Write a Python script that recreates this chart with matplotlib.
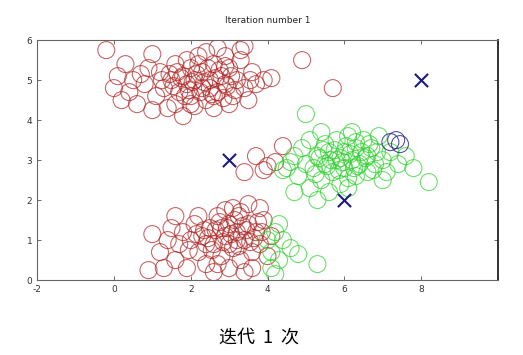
import numpy as np
import matplotlib.pyplot as plt

# cluster assignments after iteration 1
red_x = [-0.2, 0.3, 0.1, 0.5, 0.0, 0.4, 0.8, 0.9, 1.0, 1.2, 1.3, 1.1, 1.5, 1.6, 1.7, 1.8,
         1.9, 2.0, 2.0, 2.1, 2.2, 2.3, 2.3, 2.4, 2.5, 2.6, 2.7, 2.8, 2.9, 3.0, 3.1, 3.2,
         3.3, 3.3, 3.4, 3.6, 3.7, 1.8, 0.6, 1.4, 2.6, 3.0, 1.9, 2.4, 1.6, 2.9, 3.9, 4.1,
         3.5, 0.2, 1.0, 2.1, 2.7, 3.4,
         1.55, 1.75, 1.95, 2.15, 2.35, 2.55, 2.75, 2.95, 1.65, 1.85, 2.05, 2.25, 2.45,
         2.65, 2.85, 3.05, 1.45, 2.5, 2.2, 2.9, 1.25, 3.15, 0.7, 3.55, 2.0, 2.6,
         0.9, 1.0, 1.2, 1.4, 1.5, 1.6, 1.7, 1.8, 1.9, 2.0, 2.1, 2.2, 2.3, 2.4, 2.5, 2.6,
         2.7, 2.8, 2.9, 3.0, 3.0, 3.1, 3.2, 3.3, 3.3, 3.4, 3.5, 3.6, 3.6, 3.7, 3.8, 3.9,
         4.0, 4.1, 2.2, 1.3, 2.6, 3.1, 3.5, 2.9, 1.6, 3.8, 2.4, 2.8, 3.2, 3.4,
         2.45, 2.65, 2.85, 3.05, 3.25, 3.45, 3.65, 2.55, 2.75, 2.95, 3.15, 3.35, 3.55,
         3.75, 2.35, 3.85, 2.15, 1.95, 3.0, 3.25, 2.7,
         3.4, 3.7, 3.9, 4.2, 4.4, 4.0, 5.7, 4.9]
red_y = [5.75, 5.4, 5.1, 5.0, 4.8, 4.7, 4.9, 5.3, 5.65, 5.2, 4.8, 4.6, 5.0, 5.4, 4.7, 5.1,
         4.9, 5.3, 4.6, 5.0, 5.6, 4.8, 5.2, 4.5, 5.0, 5.4, 4.7, 5.1, 4.9, 5.3, 4.6, 5.0,
         5.75, 5.5, 4.8, 5.2, 4.9, 4.1, 4.4, 4.3, 4.3, 4.4, 5.5, 5.7, 4.4, 5.6, 5.0, 5.05,
         4.5, 4.5, 4.25, 4.35, 5.8, 5.85,
         4.85, 5.05, 4.75, 5.15, 4.95, 4.65, 5.25, 4.85, 5.2, 4.6, 4.95, 4.7, 5.3,
         5.05, 4.55, 5.1, 5.15, 4.8, 5.4, 5.35, 5.0, 4.75, 5.15, 5.0, 4.4, 4.6,
         0.25, 1.15, 0.7, 1.0, 1.3, 0.5, 0.9, 1.2, 0.3, 1.0, 1.4, 0.7, 1.1, 0.4, 1.3, 0.9,
         1.6, 0.6, 1.1, 0.3, 1.4, 0.8, 1.2, 0.5, 1.7, 1.0, 1.4, 0.7, 0.3, 1.2, 0.9, 1.5,
         0.6, 1.1, 1.6, 0.3, 0.2, 1.8, 1.9, 1.75, 1.6, 1.8, 0.9, 1.3, 1.0, 0.2,
         1.05, 1.25, 0.95, 1.15, 0.85, 1.25, 1.05, 0.75, 1.45, 1.3, 1.5, 1.35, 0.95,
         1.45, 1.25, 1.2, 1.15, 0.75, 0.9, 1.6, 0.4,
         2.7, 3.1, 2.75, 2.95, 3.35, 2.85, 4.8, 5.5]

green_x = [4.5, 4.7, 4.8, 4.9, 5.0, 5.1, 5.1, 5.2, 5.3, 5.4, 5.5, 5.5, 5.6, 5.7, 5.8, 5.8,
           5.9, 6.0, 6.0, 6.1, 6.2, 6.3, 6.3, 6.4, 6.5, 6.6, 6.6, 6.7, 6.8, 6.9, 7.0, 7.1,
           7.2, 7.4, 7.6, 7.8, 5.3, 5.6, 6.1, 4.7, 5.0, 8.2, 7.0, 6.2, 5.4,
           5.35, 5.55, 5.75, 5.95, 6.15, 6.35, 6.55, 6.75, 5.45, 5.65, 5.85, 6.05, 6.25,
           6.45, 6.65, 5.25, 6.85, 5.9, 6.1, 6.3, 4.6, 4.4,
           4.0, 4.1, 4.2, 4.3, 4.4, 4.1, 4.6, 4.8, 4.3, 5.3, 4.2]
green_y = [2.8, 3.1, 2.6, 3.3, 2.9, 2.3, 3.5, 2.8, 3.1, 2.5, 3.4, 2.9, 3.2, 2.7, 3.5, 3.0,
           2.4, 3.2, 2.8, 3.6, 3.0, 2.6, 3.3, 2.9, 3.5, 3.1, 2.7, 3.3, 2.9, 3.6, 3.0, 2.7,
           3.2, 2.9, 3.1, 2.8, 2.0, 2.2, 2.3, 2.2, 4.15, 2.45, 2.5, 3.7, 3.7,
           3.05, 2.85, 3.25, 2.95, 3.15, 2.85, 3.05, 2.75, 3.25, 3.0, 2.75, 3.35, 2.8,
           3.2, 3.4, 2.65, 3.2, 3.05, 2.55, 3.45, 2.95, 2.75,
           1.0, 0.7, 1.2, 0.5, 1.0, 0.3, 0.8, 0.65, 1.4, 0.4, 0.15]

blue_x = [7.2, 7.35, 7.45]
blue_y = [3.45, 3.5, 3.4]

# centroids
cent_x = [3, 6, 8]
cent_y = [3, 2, 5]

fig = plt.figure(figsize=(5.23, 3.55), dpi=100)
ax = fig.add_axes([0.071, 0.211, 0.881, 0.676])

ax.scatter(red_x, red_y, s=150, facecolors='none', edgecolors='#b02828', linewidths=0.8, alpha=0.7)
ax.scatter(green_x, green_y, s=150, facecolors='none', edgecolors='#30d030', linewidths=0.8, alpha=0.7)
ax.scatter(blue_x, blue_y, s=150, facecolors='none', edgecolors='#2a2a8a', linewidths=0.8, alpha=0.8)
ax.scatter(cent_x, cent_y, s=90, marker='x', color='#1a1a7a', linewidths=1.5)

ax.set_xlim(-2, 10)
ax.set_ylim(0, 6)
ax.set_xticks([-2, 0, 2, 4, 6, 8, 10])
ax.set_xticklabels(['-2', '0', '2', '4', '6', '8', ''])
ax.set_yticks([0, 1, 2, 3, 4, 5, 6])
ax.tick_params(direction='in', top=True, right=True, length=3, labelsize=6.5,
               labelcolor='#333333', color='#555555', width=0.6)
for side in ['left', 'bottom', 'top']:
    ax.spines[side].set_color('#666666')
    ax.spines[side].set_linewidth(0.8)
ax.spines['right'].set_color('#222222')
ax.spines['right'].set_linewidth(1.3)

ax.set_title('Iteration number 1', fontsize=6.5, color='#222222', pad=12)

fig.text(0.495, 0.05, '迭代  1  次', ha='center', va='center', fontsize=13,
         family=['Noto Sans CJK SC', 'DejaVu Sans'])

fig.savefig('out.png', dpi=100)
